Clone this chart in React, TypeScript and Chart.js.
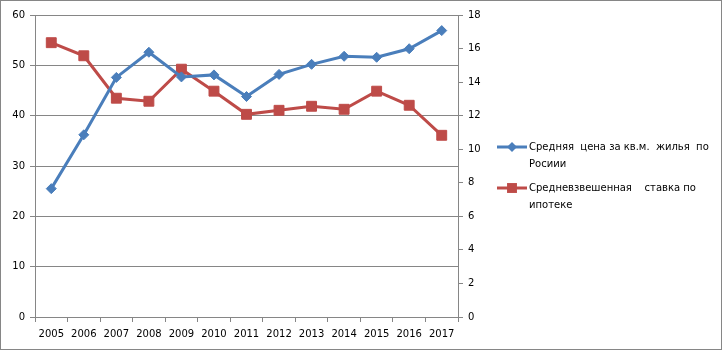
import React, { useEffect, useRef } from "react";
import { Chart, registerables } from "chart.js";

Chart.register(...registerables);

const years = ["2005", "2006", "2007", "2008", "2009", "2010", "2011", "2012", "2013", "2014", "2015", "2016", "2017"];
const priceSeries = [25.5, 36.2, 47.6, 52.6, 47.7, 48.1, 43.8, 48.2, 50.2, 51.8, 51.6, 53.3, 56.9];
const rateSeries = [16.35, 15.57, 13.04, 12.86, 14.77, 13.46, 12.08, 12.32, 12.56, 12.38, 13.46, 12.62, 10.83];
const priceLabel = ["Средняя  цена за кв.м.  жилья  по", "Росиии"];
const rateLabel = ["Средневзвешенная    ставка по", "ипотеке"];

const BLUE = "#4A7EBB";
const RED = "#BE4B48";
const GRID = "#868686";
const FONT = "DejaVu Sans";

const legendPlugin = {
  id: "sideLegend",
  afterDraw(chart: any) {
    const ctx = chart.ctx;
    const items = [
      { lines: priceLabel, ds: chart.data.datasets[0], y: 147 },
      { lines: rateLabel, ds: chart.data.datasets[1], y: 188 },
    ];
    ctx.save();
    items.forEach((it) => {
      ctx.strokeStyle = it.ds.borderColor;
      ctx.lineWidth = 3;
      ctx.beginPath();
      ctx.moveTo(497, it.y);
      ctx.lineTo(527, it.y);
      ctx.stroke();
      const r = it.ds.pointRadius;
      ctx.fillStyle = it.ds.pointBackgroundColor;
      ctx.beginPath();
      if (it.ds.pointStyle === "rectRot") {
        ctx.moveTo(512, it.y - r);
        ctx.lineTo(512 + r, it.y);
        ctx.lineTo(512, it.y + r);
        ctx.lineTo(512 - r, it.y);
        ctx.closePath();
      } else {
        const s = r * Math.SQRT1_2;
        ctx.rect(512 - s, it.y - s, 2 * s, 2 * s);
      }
      ctx.fill();
      ctx.fillStyle = "#000";
      ctx.font = `10px "${FONT}"`;
      ctx.textBaseline = "middle";
      ctx.textAlign = "left";
      it.lines.forEach((t: string, i: number) => {
        ctx.fillText(t, 529, it.y + i * 17);
      });
    });
    ctx.restore();
  },
};

export default function App() {
  const ref = useRef<HTMLCanvasElement>(null);
  useEffect(() => {
    if (!ref.current) return;
    const chart = new Chart(ref.current, {
      type: "line",
      data: {
        labels: years,
        datasets: [
          {
            label: priceLabel.join(" "),
            data: priceSeries,
            yAxisID: "y",
            borderColor: BLUE,
            backgroundColor: BLUE,
            pointBackgroundColor: BLUE,
            pointBorderColor: BLUE,
            borderWidth: 3,
            pointStyle: "rectRot",
            pointRadius: 5,
            pointBorderWidth: 1,
            tension: 0,
          },
          {
            label: rateLabel.join(" "),
            data: rateSeries,
            yAxisID: "y1",
            borderColor: RED,
            backgroundColor: RED,
            pointBackgroundColor: RED,
            pointBorderColor: RED,
            borderWidth: 3,
            pointStyle: "rect",
            pointRadius: 7,
            pointBorderWidth: 1,
            tension: 0,
          },
        ],
      },
      options: {
        animation: false,
        responsive: false,
        maintainAspectRatio: false,
        layout: { padding: { left: 0, right: 225, top: 15, bottom: 0 } },
        plugins: { legend: { display: false }, tooltip: { enabled: false } },
        scales: {
          x: {
            offset: true,
            afterFit: (s: any) => { s.height = 34; },
            grid: { display: true, drawOnChartArea: false, offset: true, color: GRID, tickLength: 5 },
            border: { display: true, color: GRID, width: 1 },
            ticks: { color: "#000", font: { family: FONT, size: 10 }, padding: 6, maxRotation: 0, autoSkip: false },
          },
          y: {
            position: "left",
            min: 0,
            max: 60,
            afterFit: (s: any) => { s.width = 35; },
            ticks: { stepSize: 10, color: "#000", font: { family: FONT, size: 10 }, padding: 5 },
            grid: { color: GRID, tickLength: 5 },
            border: { display: true, color: GRID, width: 1 },
          },
          y1: {
            position: "right",
            min: 0,
            max: 18,
            afterFit: (s: any) => { s.width = 40; },
            ticks: { stepSize: 2, color: "#000", font: { family: FONT, size: 10 }, padding: 5 },
            grid: { drawOnChartArea: false, color: GRID, tickLength: 5 },
            border: { display: true, color: GRID, width: 1 },
          },
        },
      },
      plugins: [legendPlugin],
    });
    return () => chart.destroy();
  }, []);
  return (
    <div style={{ position: "fixed", left: 0, top: 0, width: 723, height: 351, background: "#fff" }}>
      <canvas ref={ref} width={723} height={351} style={{ position: "absolute", left: 0, top: 0 }} />
      <div style={{ position: "absolute", left: 0, top: 0, width: 722, height: 350, boxSizing: "border-box", border: `1px solid ${GRID}`, pointerEvents: "none" }} />
    </div>
  );
}
